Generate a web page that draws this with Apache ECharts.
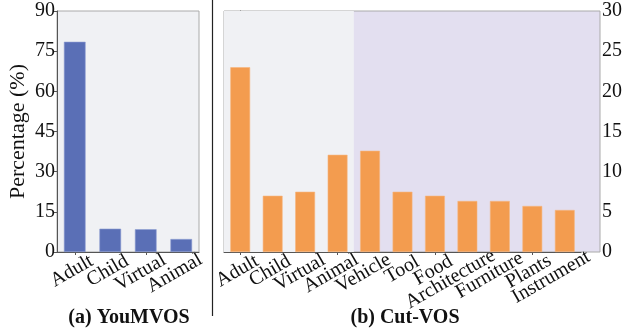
<!DOCTYPE html>
<html><head><meta charset="utf-8">
<script src="https://cdn.jsdelivr.net/npm/echarts@6/dist/echarts.min.js"></script>
<style>html,body{margin:0;padding:0;background:#fff}#c{width:626px;height:331px}</style>
</head><body><div id="c"></div>
<script>
const catsA = ['Adult','Child','Virtual','Animal'];
const valsA = [78.5, 8.7, 8.5, 4.85];
const catsB = ['Adult','Child','Virtual','Animal','Vehicle','Tool','Food','Architecture','Furniture','Plants','Instrument'];
const valsB = [23.0, 7.0, 7.5, 12.1, 12.6, 7.5, 7.0, 6.35, 6.35, 5.73, 5.23];
const ticksA = [0, 15, 30, 45, 60, 75, 90];
const ticksB = [0, 5, 10, 15, 20, 25, 30];
const titleA = '(a) YouMVOS';
const titleB = '(b) Cut-VOS';

const F = '"Liberation Serif", "Times New Roman", serif';
const chart = echarts.init(document.getElementById('c'));
const axisLine = {show: true, lineStyle: {color: '#555', width: 1}};
const tick = {show: true, alignWithLabel: true, length: 3, lineStyle: {color: '#555'}};
chart.setOption({
  animation: false,
  grid: [
    {left: 57, top: 11, width: 142, height: 241, show: true, backgroundColor: '#f0f1f4', borderColor: '#aaa', borderWidth: 1},
    {left: 224, top: 11, width: 376, height: 241, show: true, backgroundColor: '#e3dff0', borderColor: '#aaa', borderWidth: 1},
    {left: 224, top: 11, width: 357, height: 241, show: false}
  ],
  xAxis: [
    {gridIndex: 0, type: 'category', data: catsA, axisLine: axisLine, axisTick: tick, axisLabel: {show: false}},
    {gridIndex: 1, type: 'value', min: -0.5, max: 11.08, show: false},
    {gridIndex: 2, type: 'category', data: catsB, axisLine: axisLine, axisTick: tick, axisLabel: {show: false}}
  ],
  yAxis: [
    {gridIndex: 0, type: 'value', min: ticksA[0], max: ticksA[ticksA.length-1], interval: 15,
     axisLine: axisLine, axisTick: {show: true, length: 3, lineStyle: {color: '#555'}},
     splitLine: {show: false},
     axisLabel: {fontFamily: F, fontSize: 20, color: '#111', margin: 2},
     name: 'Percentage (%)', nameLocation: 'middle', nameGap: 28,
     nameTextStyle: {fontFamily: F, fontSize: 22, color: '#111'}},
    {gridIndex: 1, type: 'value', position: 'right', min: ticksB[0], max: ticksB[ticksB.length-1], interval: 5,
     axisLine: axisLine, axisTick: {show: true, length: 3, lineStyle: {color: '#555'}},
     splitLine: {show: false},
     axisLabel: {fontFamily: F, fontSize: 20, color: '#111', margin: 2}},
    {gridIndex: 2, type: 'value', min: 0, max: 30, show: false}
  ],
  series: [
    {type: 'bar', xAxisIndex: 0, yAxisIndex: 0, data: valsA, barWidth: '61%', z: 5,
     itemStyle: {color: '#5a6fb6', borderColor: '#8a9bd0', borderWidth: 0.6}},
    {type: 'line', xAxisIndex: 1, yAxisIndex: 1, data: [], silent: true,
     markArea: {silent: true, itemStyle: {color: '#f0f1f4'},
       data: [[{xAxis: -0.5, yAxis: 0}, {xAxis: 3.5, yAxis: 30}]]}},
    {type: 'bar', xAxisIndex: 2, yAxisIndex: 2, data: valsB, barWidth: '61%', z: 5,
     itemStyle: {color: '#f39c4f', borderColor: '#f7b67c', borderWidth: 0.6}}
  ]
});

// rotated category labels placed at the library's tick positions
const LF = '20px ' + F;
const ctx = document.createElement('canvas').getContext('2d');
ctx.font = LF;
const ang = Math.PI / 6;
const axisY = 252;
const gfx = [
  {type: 'line', shape: {x1: 212.5, y1: 0, x2: 212.5, y2: 316}, style: {stroke: '#222', lineWidth: 1.2}},
  {type: 'text', x: 129, y: 318, style: {text: titleA, align: 'center', verticalAlign: 'middle', font: 'bold 20px ' + F, fill: '#111'}},
  {type: 'text', x: 405, y: 318, style: {text: titleB, align: 'center', verticalAlign: 'middle', font: 'bold 20px ' + F, fill: '#111'}}
];
function addLabels(cats, axisIdx) {
  cats.forEach(function (c) {
    const tx = chart.convertToPixel({xAxisIndex: axisIdx}, c);
    const L = ctx.measureText(c).width;
    const f = 0.2 * L;
    gfx.push({type: 'text', x: tx + 4 + f * Math.cos(ang), y: axisY + 3.5 - f * Math.sin(ang), rotation: ang,
      style: {text: c, align: 'right', verticalAlign: 'top', font: LF, fill: '#111'}});
  });
}
addLabels(catsA, 0);
addLabels(catsB, 2);
chart.setOption({graphic: gfx});
</script></body></html>
